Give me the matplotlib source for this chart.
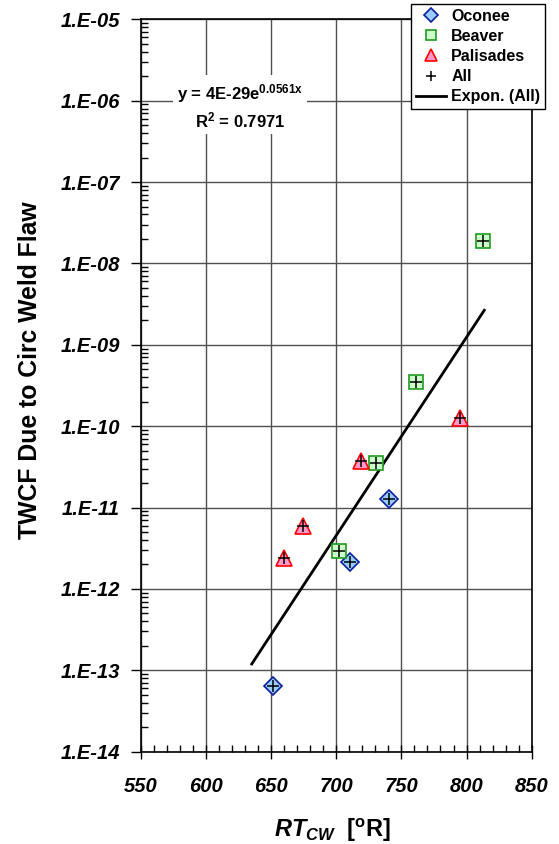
import numpy as np
import matplotlib
matplotlib.use("Agg")
import matplotlib.pyplot as plt
from matplotlib.lines import Line2D
from matplotlib.ticker import FixedLocator, FuncFormatter, MultipleLocator, LogLocator, NullFormatter

plt.rcParams['font.family'] = ['Liberation Sans', 'DejaVu Sans']
plt.rcParams['mathtext.fontset'] = 'custom'
plt.rcParams['mathtext.rm'] = 'Liberation Sans:bold'
plt.rcParams['mathtext.bf'] = 'Liberation Sans:bold'
plt.rcParams['mathtext.it'] = 'Liberation Sans:bold:italic'

# RT_CW [deg R] and TWCF for each plant
oconee_rt = [651.7, 710.8, 740.7]
oconee_twcf = [6.4e-14, 2.14e-12, 1.26e-11]
beaver_rt = [701.9, 730.8, 761.2, 812.9]
beaver_twcf = [2.92e-12, 3.56e-11, 3.49e-10, 1.89e-8]
palisades_rt = [660.0, 674.3, 718.8, 795.0]
palisades_twcf = [2.38e-12, 5.98e-12, 3.73e-11, 1.25e-10]

# exponential fit through all points
fit_a = 4e-29
fit_b = 0.0561
fit_r2 = 0.7971
fit_range = [635.2, 813.6]

fig = plt.figure(figsize=(5.59, 8.44), dpi=100)
ax = fig.add_axes([140.7 / 559, 1 - 751.7 / 844, 391 / 559, 732.4 / 844])

all_rt = oconee_rt + beaver_rt + palisades_rt
all_twcf = oconee_twcf + beaver_twcf + palisades_twcf

ax.plot(oconee_rt, oconee_twcf, 'D', ms=9.5, mfc='#99CCFF', mec='#0a1f9e', mew=1.2, ls='none', zorder=4)
ax.plot(beaver_rt, beaver_twcf, 's', ms=10, mfc='#CCFFCC', mec='#1f9a1f', mew=1.2, ls='none', zorder=4)
ax.plot(palisades_rt, palisades_twcf, '^', ms=11, mfc='#FF99CC', mec='#FF0000', mew=1.2, ls='none', zorder=4)
ax.plot(all_rt, all_twcf, '+', ms=8, color='black', mew=1.1, ls='none', zorder=5)

xf = np.linspace(fit_range[0], fit_range[1], 100)
ax.plot(xf, fit_a * np.exp(fit_b * xf), color='black', lw=2, zorder=3)

ax.set_yscale('log')
ax.set_xlim(550, 850)
ax.set_ylim(1e-14, 1e-5)

ax.xaxis.set_major_locator(MultipleLocator(50))
ax.xaxis.set_minor_locator(MultipleLocator(10))
ax.yaxis.set_major_locator(FixedLocator([10.0 ** k for k in range(-14, -4)]))
ax.yaxis.set_minor_locator(LogLocator(base=10, subs=np.arange(2, 10), numticks=20))
ax.yaxis.set_minor_formatter(NullFormatter())
ax.yaxis.set_major_formatter(FuncFormatter(lambda v, p: "1.E%03d" % int(round(np.log10(v)))))

ax.grid(True, which='major', color='#505050', lw=1)
ax.set_axisbelow(True)
for s in ax.spines.values():
    s.set_color('black')
    s.set_linewidth(1.2)

ax.tick_params(axis='x', which='major', direction='inout', length=10, width=1, pad=13)
ax.tick_params(axis='x', which='minor', direction='in', length=5, width=1)
ax.tick_params(axis='y', which='major', direction='out', length=7, width=1, pad=8)
ax.tick_params(axis='y', which='minor', direction='in', length=5, width=1)
for lab in ax.get_xticklabels() + ax.get_yticklabels():
    lab.set_fontsize(14.5)
    lab.set_fontweight('bold')
    lab.set_fontstyle('italic')

fig.text(333 / 559, 1 - 830 / 844, r"$RT_{CW}$  [$^{\mathrm{o}}$R]", fontsize=17,
         fontweight='bold', ha='center', va='center')
fig.text(30 / 559, 1 - 370 / 844, "TWCF Due to Circ Weld Flaw", rotation=90,
         fontsize=17.8, fontweight='bold', ha='center', va='center')

eq = "y = 4E-29e$^{\\mathrm{0.0561x}}$\nR$^{2}$ = %.4f" % fit_r2
fig.text(240 / 559, 1 - 106 / 844, eq, fontsize=12, fontweight='bold', ha='center',
         va='center', linespacing=1.3, bbox=dict(facecolor='white', edgecolor='none', pad=3))

handles = [
    Line2D([], [], marker='D', ms=7, mfc='#99CCFF', mec='#0a1f9e', mew=1.2, ls='none'),
    Line2D([], [], marker='s', ms=7, mfc='#CCFFCC', mec='#1f9a1f', mew=1.2, ls='none'),
    Line2D([], [], marker='^', ms=8, mfc='#FF99CC', mec='#FF0000', mew=1.2, ls='none'),
    Line2D([], [], marker='+', ms=7, color='black', mew=1.1, ls='none'),
    Line2D([], [], color='black', lw=2),
]
labels = ['Oconee', 'Beaver', 'Palisades', 'All', 'Expon. (All)']
leg = fig.legend(handles, labels, loc='upper right', bbox_to_anchor=(545 / 559, 1 - 4 / 844),
                 borderaxespad=0, prop=dict(size=11.5, weight='bold'), frameon=True,
                 fancybox=False, edgecolor='black', framealpha=1, handlelength=1.9,
                 handletextpad=0.3, labelspacing=0.32, borderpad=0.3)
leg.get_frame().set_linewidth(1)

fig.savefig('out.png', dpi=100)
